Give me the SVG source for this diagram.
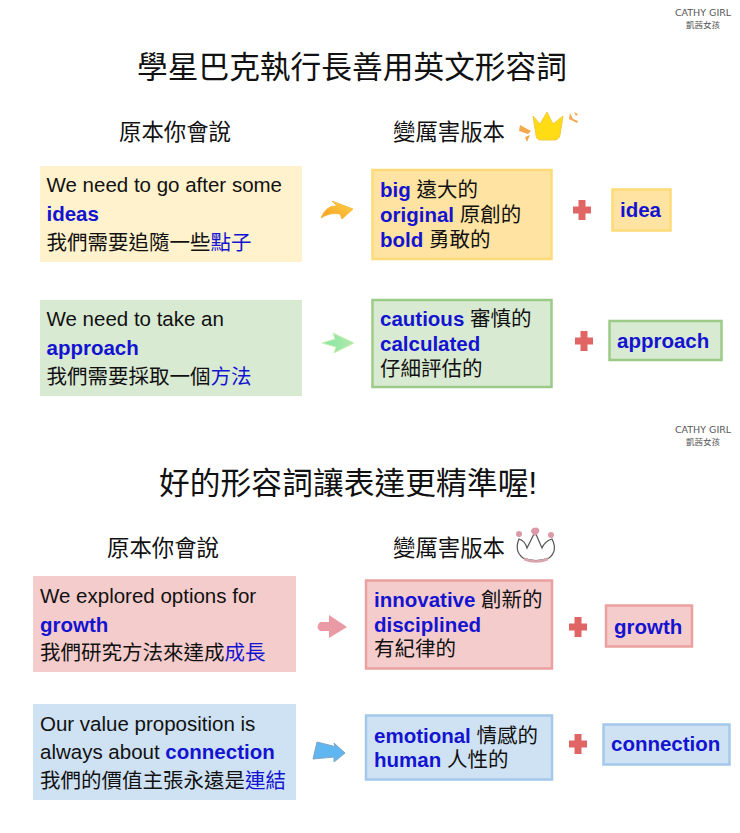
<svg xmlns="http://www.w3.org/2000/svg" width="740" height="833" viewBox="0 0 740 833">
<style>
text{font-family:"Liberation Sans","Noto Sans CJK TC",sans-serif;fill:#111}
.title{font-size:30.7px}
.head{font-size:22.4px}
.t{font-size:20.5px}
.b{font-weight:700;fill:#1414d0}
.u{fill:#1414d0}
.mark{font-family:"DejaVu Sans","Noto Sans CJK TC",sans-serif;fill:#555;text-anchor:middle}
.yl{fill:#fff2cc}.yd{fill:#fee3a2;stroke:#fedb78;stroke-width:2.500}
.gl{fill:#d9ead3}.gd{fill:#d9ead3;stroke:#9ccb88;stroke-width:2.500}
.rl{fill:#f4cccc}.rd{fill:#f4cccc;stroke:#eba0a0;stroke-width:2.500}
.bl{fill:#cfe2f3}.bd{fill:#cfe2f3;stroke:#a4c8ea;stroke-width:2.500}
.plus{fill:#e06666}
</style>
<defs>
<path id="plus" d="M-3.500-10h7v6.500h5.500v7h-5.500v6.500h-7v-6.500h-5.500v-7h5.500z"/>
<linearGradient id="ga" x1="0" y1="1" x2="1" y2="0"><stop offset="0" stop-color="#f59a1e"/><stop offset="1" stop-color="#ffd54a"/></linearGradient>
<linearGradient id="gb" x1="0" y1="0" x2="1" y2="0"><stop offset="0" stop-color="#7fe8a8"/><stop offset="1" stop-color="#b4e8a8"/></linearGradient>
</defs>
<g id="marks">
<text class="mark" x="703" y="16" font-size="9.500">CATHY GIRL</text>
<text class="mark" x="703" y="28" font-size="8.500">凱茜女孩</text>
<text class="mark" x="703" y="433" font-size="9.500">CATHY GIRL</text>
<text class="mark" x="703" y="445" font-size="8.500">凱茜女孩</text>
</g>
<g id="titles">
<text class="title" x="137" y="78" textLength="430">學星巴克執行長善用英文形容詞</text>
<text class="head" x="119" y="140">原本你會說</text>
<text class="head" x="393" y="140">變厲害版本</text>
<text class="title" x="159" y="494" textLength="378">好的形容詞讓表達更精準喔!</text>
<text class="head" x="107" y="556">原本你會說</text>
<text class="head" x="393" y="556">變厲害版本</text>
</g>
<g id="crown1">
<path d="M533 116l7 8 7-12 6 12 10-8-3 19q-1 5-6 5h-13q-5 0-5-5z" fill="#ffdc14" stroke="#f6c945" stroke-width="1"/>
<path d="M520 125l11 6-3 3-9-3zM525 137l5-2-3 7zM570 113l3 6 5 2-1 2-8-4zM574 112l4 2-2 2z" fill="#f4a94e"/>
</g>
<g id="crown2">
<path d="M519 539q-5 12 4 19q13 5 26 0q9-7 3-19q-7 2-10 9l-7-16-8 16q-2-7-8-9z" fill="#fff" stroke="#555" stroke-width="1.200"/>
<path d="M524 559q12 5 24 0" fill="none" stroke="#d9a6ad" stroke-width="2.500"/>
<path d="M535 536q-7-5-2-8q2-1 2 0q1-1 3 0q4 3-3 8z" fill="#dc9aa8"/><circle cx="519" cy="534" r="3" fill="#dc9aa8"/><circle cx="551" cy="535" r="3" fill="#dc9aa8"/>
</g>
<g id="connectors">
<path d="M321 218q5-13 16-12l-5-5 21 8-11 10-2-5q-10-2-19 4z" fill="url(#ga)" stroke="#f6b52e" stroke-width="0.800"/>
<path d="M322 343l13-4-2-6 21 10-20 10 2-6z" fill="url(#gb)" stroke="#cdeeb0" stroke-width="1"/>
<path d="M320 622h9v-7l18 12-18 11v-7h-9q-5-4 0-9z" fill="#ea9aa5"/>
<path d="M317 742l16 4 2 1-1-4 11 10-11 9v-5l-21 2z" fill="#5fb6f0" stroke="#7fa7c2" stroke-width="1"/>
</g>
<g id="n1"><rect class="yl" x="40" y="166" width="262" height="96"/>
<text class="t" x="46.500" y="192">We need to go after some</text>
<text class="t b" x="46.500" y="221">ideas</text>
<text class="t" x="46.500" y="250">我們需要追隨一些<tspan class="u">點子</tspan></text></g>
<g id="n2"><rect class="yd" x="372.500" y="170" width="179" height="89"/>
<text class="t" x="380" y="197"><tspan class="b">big</tspan> 遠大的</text>
<text class="t" x="380" y="222"><tspan class="b">original</tspan> 原創的</text>
<text class="t" x="380" y="247"><tspan class="b">bold</tspan> 勇敢的</text></g>
<use id="p1" class="plus" href="#plus" x="582" y="210"/>
<g id="n3"><rect class="yd" x="612.500" y="189.500" width="58" height="41"/>
<text class="t b" x="620" y="217">idea</text></g>
<g id="n4"><rect class="gl" x="40" y="300" width="262" height="96"/>
<text class="t" x="46.500" y="326">We need to take an</text>
<text class="t b" x="46.500" y="355">approach</text>
<text class="t" x="46.500" y="384">我們需要採取一個<tspan class="u">方法</tspan></text></g>
<g id="n5"><rect class="gd" x="372.500" y="300" width="179" height="87"/>
<text class="t" x="380" y="326"><tspan class="b">cautious</tspan> 審慎的</text>
<text class="t b" x="380" y="351">calculated</text>
<text class="t" x="380" y="376">仔細評估的</text></g>
<use id="p2" class="plus" href="#plus" x="584" y="341"/>
<g id="n6"><rect class="gd" x="609.500" y="321" width="112" height="39"/>
<text class="t b" x="617" y="348">approach</text></g>
<g id="n7"><rect class="rl" x="33" y="576" width="263" height="96"/>
<text class="t" x="40" y="603">We explored options for</text>
<text class="t b" x="40" y="632">growth</text>
<text class="t" x="40" y="660">我們研究方法來達成<tspan class="u">成長</tspan></text></g>
<g id="n8"><rect class="rd" x="366" y="580.500" width="186" height="88"/>
<text class="t" x="374" y="607"><tspan class="b">innovative</tspan> 創新的</text>
<text class="t b" x="374" y="632">disciplined</text>
<text class="t" x="374" y="656">有紀律的</text></g>
<use id="p3" class="plus" href="#plus" x="578" y="627"/>
<g id="n9"><rect class="rd" x="606" y="605.500" width="86" height="41"/>
<text class="t b" x="614" y="634">growth</text></g>
<g id="n10"><rect class="bl" x="33" y="704" width="263" height="96"/>
<text class="t" x="40" y="731">Our value proposition is</text>
<text class="t" x="40" y="759">always about <tspan class="b">connection</tspan></text>
<text class="t" x="40" y="788">我們的價值主張永遠是<tspan class="u">連結</tspan></text></g>
<g id="n11"><rect class="bd" x="366" y="715.500" width="186" height="64"/>
<text class="t" x="374" y="743"><tspan class="b">emotional</tspan> 情感的</text>
<text class="t" x="374" y="767"><tspan class="b">human</tspan> 人性的</text></g>
<use id="p4" class="plus" href="#plus" x="578" y="744"/>
<g id="n12"><rect class="bd" x="603.500" y="724.500" width="126" height="40"/>
<text class="t b" x="611" y="751">connection</text></g>
</svg>
